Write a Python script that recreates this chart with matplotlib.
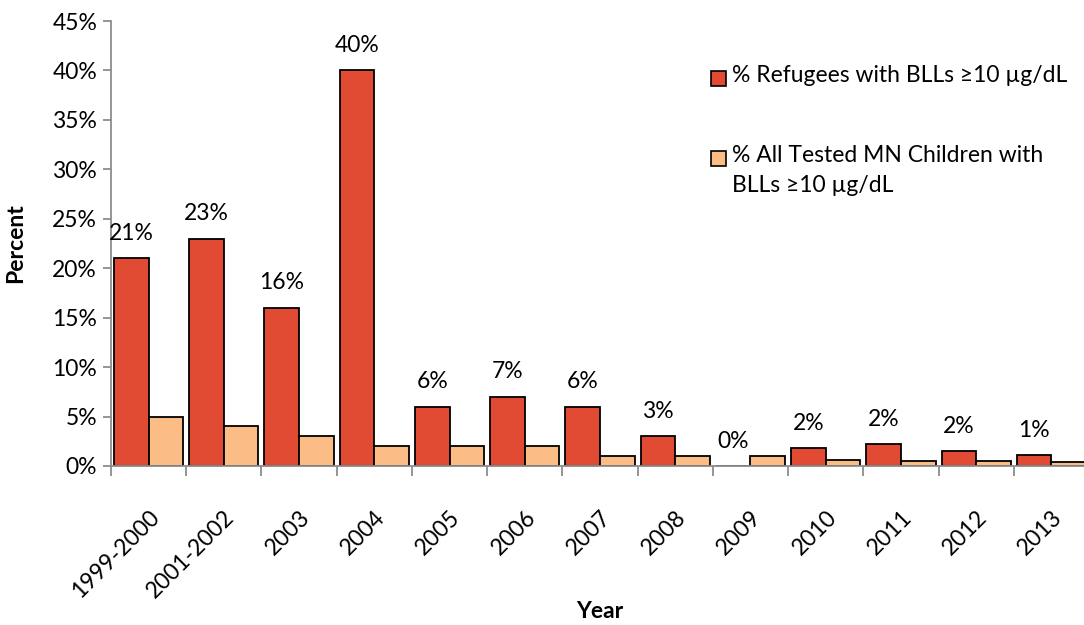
import matplotlib
matplotlib.use("Agg")
import matplotlib.pyplot as plt
import matplotlib.patches as mpatches
import matplotlib.transforms as mtransforms
import numpy as np

plt.rcParams['font.family'] = ['Lato', 'DejaVu Sans']

years = ["1999-2000", "2001-2002", "2003", "2004", "2005", "2006", "2007",
         "2008", "2009", "2010", "2011", "2012", "2013"]
refugees = [21, 23, 16, 40, 6, 7, 6, 3, 0, 1.8, 2.2, 1.5, 1.1]
mn_children = [5, 4, 3, 2, 2, 2, 1, 1, 1, 0.6, 0.5, 0.5, 0.4]
yticks = [0, 5, 10, 15, 20, 25, 30, 35, 40, 45]

red = "#E24B33"
orange = "#FBBC85"
grey = "#8C8C8C"
fs = 16.5

W, H = 1084, 625
fig = plt.figure(figsize=(W / 100, H / 100), dpi=100)
ax = fig.add_axes([111 / W, 159 / H, 978 / W, 445 / H])

x = np.arange(len(years))
bw = 0.46
ax.bar(x - bw / 2, refugees, bw, color=red, edgecolor="black", linewidth=1.3)
ax.bar(x + bw / 2, mn_children, bw, color=orange, edgecolor="black", linewidth=1.3)

for xi, v in zip(x, refugees):
    ax.annotate(f"{v:.0f}%", (xi - bw / 2, v), xytext=(0, 18), textcoords="offset points",
                ha="center", va="center", fontsize=fs)

ax.set_xlim(-0.5, len(years) - 0.5)
ax.set_ylim(0, 45)
ax.set_yticks(yticks)
ax.set_yticklabels([f"{t}%" for t in yticks], fontsize=fs)
ax.set_xticks(x)
ax.set_xticklabels(years, rotation=45, ha="right", va="top", rotation_mode="anchor", fontsize=fs)
shift = mtransforms.ScaledTranslation(6 / 100, 0, fig.dpi_scale_trans)
for lab in ax.get_xticklabels():
    lab.set_transform(lab.get_transform() + shift)
ax.set_xticks(np.arange(-0.5, len(years)), minor=True)
ax.tick_params(axis="x", which="major", length=0, pad=29)
ax.tick_params(axis="x", which="minor", length=7, color=grey, width=1.3)
ax.tick_params(axis="y", length=6, color=grey, width=1.3, pad=4)

for s in ["top", "right"]:
    ax.spines[s].set_visible(False)
for s in ["left", "bottom"]:
    ax.spines[s].set_color(grey)
    ax.spines[s].set_linewidth(1.3)

fig.text(16 / W, 1 - 243 / H, "Percent", fontsize=fs, fontweight="bold",
         ha="center", va="center", rotation=90)
fig.text(600 / W, 1 - 612 / H, "Year", fontsize=fs, fontweight="bold",
         ha="center", va="center")

# legend drawn by hand so the swatch sits on the first text line
entries = [(red, "% Refugees with BLLs ≥10 µg/dL", 78),
           (orange, "% All Tested MN Children with\nBLLs ≥10 µg/dL", 158)]
for col, txt, ypx in entries:
    fig.patches.append(mpatches.Rectangle((711 / W, 1 - (ypx + 8) / H), 15 / W, 15 / H,
                                          transform=fig.transFigure, facecolor=col,
                                          edgecolor="black", linewidth=1.2))
    fig.text(732 / W, 1 - (ypx - 13) / H, txt, fontsize=fs, ha="left", va="top",
             linespacing=1.55)

fig.savefig("out.png", dpi=100)
